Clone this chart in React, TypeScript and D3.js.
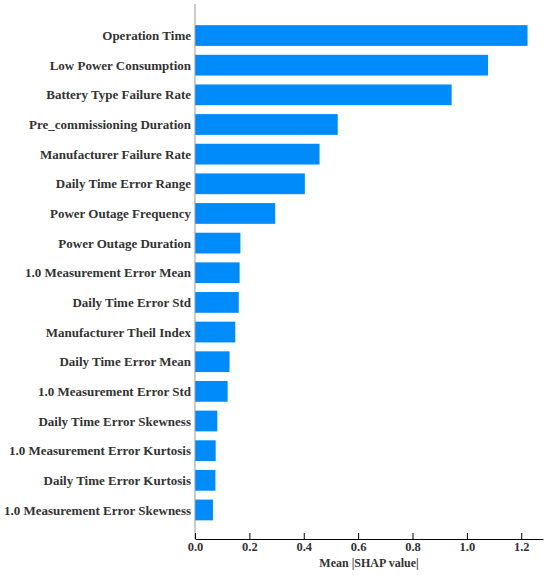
import { useEffect, useRef } from 'react';
import * as d3 from 'd3';

const features = [
  'Operation Time',
  'Low Power Consumption',
  'Battery Type Failure Rate',
  'Pre_commissioning Duration',
  'Manufacturer Failure Rate',
  'Daily Time Error Range',
  'Power Outage Frequency',
  'Power Outage Duration',
  '1.0 Measurement Error Mean',
  'Daily Time Error Std',
  'Manufacturer Theil Index',
  'Daily Time Error Mean',
  '1.0 Measurement Error Std',
  'Daily Time Error Skewness',
  '1.0 Measurement Error Kurtosis',
  'Daily Time Error Kurtosis',
  '1.0 Measurement Error Skewness',
];

const meanShap = [
  1.223, 1.078, 0.944, 0.525, 0.458, 0.404, 0.295, 0.167, 0.164,
  0.161, 0.148, 0.127, 0.12, 0.082, 0.076, 0.075, 0.066,
];

const xTicks = [0, 0.2, 0.4, 0.6, 0.8, 1.0, 1.2];

export default function App() {
  const svgRef = useRef<SVGSVGElement>(null);
  const width = 550;
  const height = 575;

  useEffect(() => {
    const svg = d3.select(svgRef.current);
    svg.selectAll('*').remove();

    const font = '"Liberation Serif", "Times New Roman", serif';
    const left = 195;
    const right = 543;
    const axisY = 539;

    const x = d3.scaleLinear().domain([0, 1.28]).range([left, right]);
    const y = d3.scaleBand<string>()
      .domain(features)
      .range([20.7, 524.8])
      .paddingInner(0.3)
      .paddingOuter(0.15);

    const data = features.map((f, i) => ({ name: f, value: meanShap[i] }));

    svg.append('g')
      .selectAll('rect')
      .data(data)
      .join('rect')
      .attr('x', x(0))
      .attr('y', d => y(d.name)!)
      .attr('width', d => x(d.value) - x(0))
      .attr('height', y.bandwidth())
      .attr('fill', '#008bfb');

    // left spine
    svg.append('line')
      .attr('x1', left)
      .attr('x2', left)
      .attr('y1', 4)
      .attr('y2', axisY)
      .attr('stroke', '#999')
      .attr('stroke-width', 1);

    svg.append('g')
      .selectAll('text')
      .data(data)
      .join('text')
      .attr('x', left - 4)
      .attr('y', d => y(d.name)! + y.bandwidth() / 2)
      .attr('dy', '0.35em')
      .attr('text-anchor', 'end')
      .attr('fill', '#333')
      .style('font-family', font)
      .style('font-weight', 'bold')
      .style('font-size', '13px')
      .text(d => d.name);

    const xAxis = d3.axisBottom(x)
      .tickValues(xTicks)
      .tickFormat(d3.format('.1f'))
      .tickSizeInner(-6)
      .tickSizeOuter(0)
      .tickPadding(4);

    const gx = svg.append('g')
      .attr('transform', `translate(0,${axisY})`)
      .call(xAxis);

    gx.select('.domain').attr('stroke', '#000').attr('stroke-width', 1.2);
    gx.selectAll('.tick line').attr('stroke', '#000');
    gx.selectAll('.tick text')
      .attr('fill', '#333')
      .attr('y', 3)
      .attr('dy', '0.71em')
      .style('font-family', font)
      .style('font-weight', 'bold')
      .style('font-size', '12.5px');

    svg.append('text')
      .attr('x', (left + right) / 2)
      .attr('y', 567)
      .attr('text-anchor', 'middle')
      .attr('fill', '#333')
      .style('font-family', font)
      .style('font-weight', 'bold')
      .style('font-size', '12px')
      .text('Mean |SHAP value|');
  }, []);

  return (
    <svg
      ref={svgRef}
      width={width}
      height={height}
      style={{ position: 'absolute', left: 0, top: 0, background: '#fff' }}
    ></svg>
  );
}
